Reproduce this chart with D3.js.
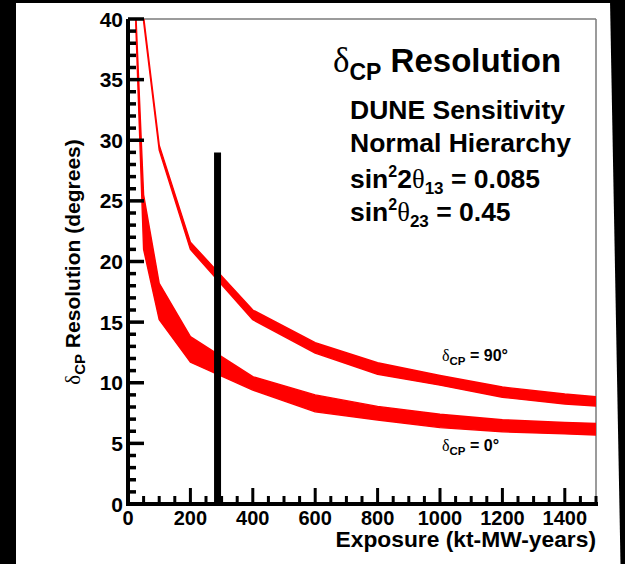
<!DOCTYPE html>
<html>
<head>
<meta charset="utf-8">
<script src="https://cdn.jsdelivr.net/npm/d3@7"></script>
<style>
  html, body { margin: 0; padding: 0; background: #fff; }
  svg { display: block; }
  text { font-family: "Liberation Sans", Arial, sans-serif; font-weight: bold; fill: #000; }
  .sym { font-family: "Liberation Serif", "DejaVu Serif", serif; font-weight: normal; }
</style>
</head>
<body>
<svg id="chart" width="625" height="564"></svg>
<script>
// ---------------- data ----------------
const exposure90 = [50, 100, 200, 400, 600, 800, 1000, 1200, 1400, 1500];
const res90High  = [40.2, 29.6, 21.6, 16.0, 13.3, 11.65, 10.6, 9.65, 9.07, 8.85];
const res90Low   = [39.8, 29.2, 21.0, 15.2, 12.45, 10.7, 9.8, 8.8, 8.25, 8.08];

const exposure0  = [25, 50, 100, 200, 400, 600, 800, 1000, 1200, 1400, 1500];
const res0High   = [40.5, 25.5, 18.2, 13.8, 10.5, 9.0, 8.05, 7.4, 6.95, 6.72, 6.65];
const res0Low    = [39.5, 21.0, 15.2, 11.7, 9.4, 7.6, 6.93, 6.3, 5.96, 5.78, 5.69];

const markerExposure = 287;
const markerRange = [0, 29];

const xMajorTicks = [0, 200, 400, 600, 800, 1000, 1200, 1400];
const yMajorTicks = [0, 5, 10, 15, 20, 25, 30, 35, 40];

// ---------------- drawing ----------------
const W = 625, H = 564;
const svg = d3.select("#chart");
svg.append("rect").attr("width", W).attr("height", H).attr("fill", "#fff");

// black surround (screenshot border)
svg.append("rect").attr("x", 0).attr("y", 0).attr("width", 16).attr("height", H).attr("fill", "#000");
svg.append("rect").attr("x", 0).attr("y", 0).attr("width", W).attr("height", 3).attr("fill", "#000");
svg.append("path").attr("d", "M610,0 L625,0 L625,564 L620.5,564 Z").attr("fill", "#000");

const x = d3.scaleLinear().domain([0, 1500]).range([128, 596]);
const y = d3.scaleLinear().domain([0, 40]).range([504, 19]);

svg.append("defs").append("clipPath").attr("id", "plotclip")
  .append("rect").attr("x", 128).attr("y", 19).attr("width", 596 - 128).attr("height", 504 - 19);

// frame top and right
svg.append("line").attr("x1", 128).attr("x2", 596).attr("y1", 19).attr("y2", 19)
  .attr("stroke", "#7a7a7a").attr("stroke-width", 1.5);
svg.append("line").attr("x1", 596).attr("x2", 596).attr("y1", 19).attr("y2", 504)
  .attr("stroke", "#7a7a7a").attr("stroke-width", 1.5);

// bands
const area = d3.area().x(d => x(d.e)).y0(d => y(d.lo)).y1(d => y(d.hi));
const band90 = exposure90.map((e, i) => ({ e, lo: res90Low[i], hi: res90High[i] }));
const band0 = exposure0.map((e, i) => ({ e, lo: res0Low[i], hi: res0High[i] }));
const g = svg.append("g").attr("clip-path", "url(#plotclip)");
[band90, band0].forEach(b => {
  g.append("path").datum(b).attr("d", area)
    .attr("fill", "#ff0000").attr("stroke", "#ff0000").attr("stroke-width", 1.4)
    .attr("stroke-linejoin", "round");
});

// marker bar
svg.append("line")
  .attr("x1", x(markerExposure)).attr("x2", x(markerExposure))
  .attr("y1", y(markerRange[0])).attr("y2", y(markerRange[1]))
  .attr("stroke", "#000").attr("stroke-width", 7);

// ticks (drawn from the scales)
const axG = svg.append("g");
const yMinorVals = d3.range(0, 41, 1);
axG.selectAll("line.ytick").data(yMinorVals).join("line").attr("class", "ytick")
  .attr("x1", 128).attr("x2", d => 128 + (d % 5 === 0 ? 16 : 8))
  .attr("y1", d => y(d)).attr("y2", d => y(d))
  .attr("stroke", "#000").attr("stroke-width", 3.5);
const xMinorVals = d3.range(0, 1501, 50);
axG.selectAll("line.xtick").data(xMinorVals).join("line").attr("class", "xtick")
  .attr("x1", d => x(d)).attr("x2", d => x(d))
  .attr("y1", 504).attr("y2", d => 504 - (d % 200 === 0 ? 16 : 8))
  .attr("stroke", "#000").attr("stroke-width", 3);

axG.selectAll("text.ylab").data(yMajorTicks).join("text").attr("class", "ylab")
  .attr("x", 123).attr("y", d => y(d)).attr("dy", "0.36em")
  .attr("text-anchor", "end").attr("font-size", 21).text(d => d);
axG.selectAll("text.xlab").data(xMajorTicks).join("text").attr("class", "xlab")
  .attr("x", d => x(d)).attr("y", 525)
  .attr("text-anchor", "middle").attr("font-size", 20).text(d => d);

// axis lines
svg.append("line").attr("x1", 128).attr("x2", 128).attr("y1", 19).attr("y2", 506)
  .attr("stroke", "#000").attr("stroke-width", 4);
svg.append("line").attr("x1", 126).attr("x2", 598).attr("y1", 504).attr("y2", 504)
  .attr("stroke", "#000").attr("stroke-width", 4);

// axis titles
svg.append("text").attr("x", 596).attr("y", 547).attr("text-anchor", "end")
  .attr("font-size", 22.8).text("Exposure (kt-MW-years)");

const yt = svg.append("text").attr("transform", "translate(80,262) rotate(-90)")
  .attr("text-anchor", "middle").attr("font-size", 21);
yt.append("tspan").attr("class", "sym").text("δ");
yt.append("tspan").attr("font-size", 15).attr("dy", 5).text("CP");
yt.append("tspan").attr("dy", -5).text(" Resolution (degrees)");

// title block
const t1 = svg.append("text").attr("x", 333).attr("y", 72).attr("font-size", 33);
t1.append("tspan").attr("class", "sym").attr("font-size", 35).text("δ");
t1.append("tspan").attr("font-size", 23).attr("dy", 8).text("CP");
t1.append("tspan").attr("dy", -8).text(" Resolution");

svg.append("text").attr("x", 350).attr("y", 119).attr("font-size", 26.5).text("DUNE Sensitivity");
svg.append("text").attr("x", 350).attr("y", 152).attr("font-size", 26.5).text("Normal Hierarchy");

const t4 = svg.append("text").attr("x", 350).attr("y", 188).attr("font-size", 26.5);
t4.append("tspan").text("sin");
t4.append("tspan").attr("font-size", 16).attr("dy", -11).text("2");
t4.append("tspan").attr("dy", 11).text("2");
t4.append("tspan").attr("class", "sym").text("θ");
t4.append("tspan").attr("font-size", 17).attr("dy", 6).text("13");
t4.append("tspan").attr("dy", -6).text(" = 0.085");

const t5 = svg.append("text").attr("x", 350).attr("y", 221).attr("font-size", 26.5);
t5.append("tspan").text("sin");
t5.append("tspan").attr("font-size", 16).attr("dy", -11).text("2");
t5.append("tspan").attr("class", "sym").attr("dy", 11).text("θ");
t5.append("tspan").attr("font-size", 17).attr("dy", 6).text("23");
t5.append("tspan").attr("dy", -6).text(" = 0.45");

// curve labels
function curveLabel(xp, yp, val) {
  const t = svg.append("text").attr("x", xp).attr("y", yp).attr("font-size", 16);
  t.append("tspan").attr("class", "sym").text("δ");
  t.append("tspan").attr("font-size", 11.5).attr("dy", 4).text("CP");
  t.append("tspan").attr("dy", -4).text(" = " + val + "°");
}
curveLabel(442, 361, "90");
curveLabel(442, 451, "0");
</script>
</body>
</html>
